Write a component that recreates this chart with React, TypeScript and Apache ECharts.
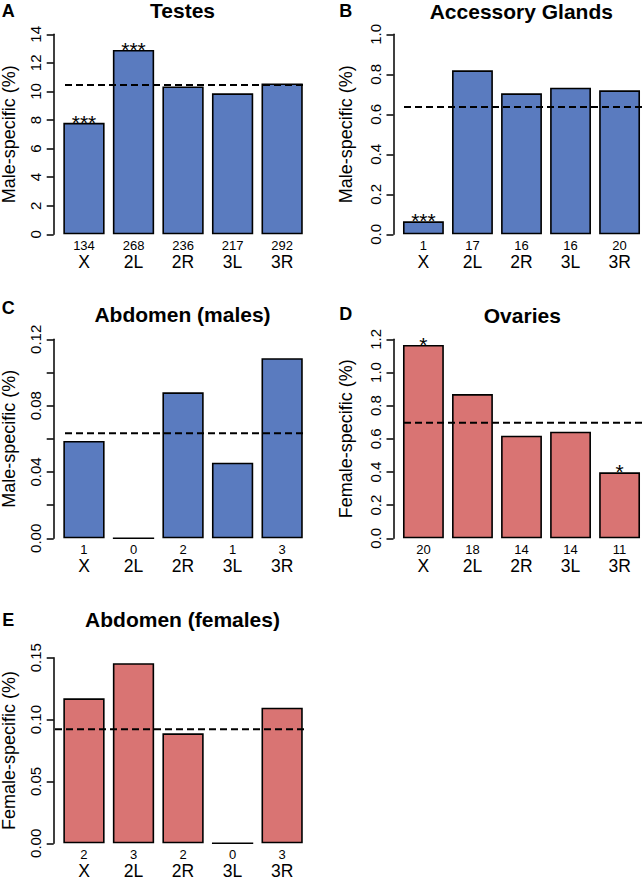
import React, { useEffect, useRef } from "react";
import * as echarts from "echarts";

// ---------- data ----------
const categories = ["X", "2L", "2R", "3L", "3R"];

const testesPct = [7.8, 12.9, 10.35, 9.87, 10.56];
const testesCounts = [134, 268, 236, 217, 292];
const testesSig = ["***", "***", "", "", ""];
const testesMean = 10.45;

const glandsPct = [0.065, 0.82, 0.705, 0.733, 0.72];
const glandsCounts = [1, 17, 16, 16, 20];
const glandsSig = ["***", "", "", "", ""];
const glandsMean = 0.636;

const abdMalePct = [0.0587, 0, 0.088, 0.0456, 0.1086];
const abdMaleCounts = [1, 0, 2, 1, 3];
const abdMaleSig = ["", "", "", "", ""];
const abdMaleMean = 0.0633;

const ovariesPct = [1.166, 0.87, 0.619, 0.643, 0.398];
const ovariesCounts = [20, 18, 14, 14, 11];
const ovariesSig = ["*", "", "", "", "*"];
const ovariesMean = 0.697;

const abdFemalePct = [0.1172, 0.1455, 0.0889, 0, 0.1096];
const abdFemaleCounts = [2, 3, 2, 0, 3];
const abdFemaleSig = ["", "", "", "", ""];
const abdFemaleMean = 0.0921;

// ---------- styles ----------
const FONT = "'Liberation Sans', Arial, Helvetica, sans-serif";
const BLUE = "#5A7BBF";
const RED = "#D97473";

const fmt0 = (v: number) => String(Math.round(v));
const fmt1 = (v: number) => v.toFixed(1);
const fmt2 = (v: number) => v.toFixed(2);
const fmt2every2 = (v: number) => (Math.round(v / 0.02) % 2 === 0 ? v.toFixed(2) : "");

const panels = [
  {
    letter: "A", title: "Testes", ylabel: "Male-specific (%)",
    values: testesPct, counts: testesCounts, sig: testesSig, mean: testesMean, color: BLUE,
    yMax: 14, yInterval: 2, fmt: fmt0,
    left: 59.2, width: 247.7, top: 34.3, height: 200, axisOffset: 5.5, nameGap: 36,
    lineFrom: 65, lineTo: 305, letterPos: [8.3, 10.7], titlePos: [182.5, 10.3],
  },
  {
    letter: "B", title: "Accessory Glands", ylabel: "Male-specific (%)",
    values: glandsPct, counts: glandsCounts, sig: glandsSig, mean: glandsMean, color: BLUE,
    yMax: 1.0, yInterval: 0.2, fmt: fmt1,
    left: 398.9, width: 245.2, top: 34.3, height: 200, axisOffset: 5.4, nameGap: 38.5,
    lineFrom: 404, lineTo: 644, letterPos: [345.7, 10.7], titlePos: [521.3, 11.2],
  },
  {
    letter: "C", title: "Abdomen (males)", ylabel: "Male-specific (%)",
    values: abdMalePct, counts: abdMaleCounts, sig: abdMaleSig, mean: abdMaleMean, color: BLUE,
    yMax: 0.12, yInterval: 0.02, fmt: fmt2every2,
    left: 59.2, width: 247.7, top: 339.3, height: 199, axisOffset: 5.5, nameGap: 36,
    lineFrom: 65, lineTo: 305, letterPos: [8.3, 307.8], titlePos: [182.5, 314.5],
  },
  {
    letter: "D", title: "Ovaries", ylabel: "Female-specific (%)",
    values: ovariesPct, counts: ovariesCounts, sig: ovariesSig, mean: ovariesMean, color: RED,
    yMax: 1.2, yInterval: 0.2, fmt: fmt1,
    left: 398.9, width: 245.2, top: 339.3, height: 199, axisOffset: 5.4, nameGap: 38.5,
    lineFrom: 404, lineTo: 644, letterPos: [345.7, 313.7], titlePos: [522.3, 315],
  },
  {
    letter: "E", title: "Abdomen (females)", ylabel: "Female-specific (%)",
    values: abdFemalePct, counts: abdFemaleCounts, sig: abdFemaleSig, mean: abdFemaleMean, color: RED,
    yMax: 0.15, yInterval: 0.05, fmt: fmt2,
    left: 59.2, width: 247.7, top: 657.7, height: 185.6, axisOffset: 5.5, nameGap: 36,
    lineFrom: 55, lineTo: 305, letterPos: [8.3, 620], titlePos: [182.5, 619.5],
  },
];

function buildOption() {
  const grid: any[] = [];
  const xAxis: any[] = [];
  const yAxis: any[] = [];
  const series: any[] = [];
  const graphic: any[] = [];
  const n = panels.length;

  panels.forEach((p, i) => {
    grid.push({
      left: p.left, top: p.top, width: p.width, height: p.height,
      containLabel: false, outerBoundsMode: "none",
    });
    xAxis.push({
      type: "category", gridIndex: i, data: categories, boundaryGap: true,
      axisLine: { show: false }, axisTick: { show: false }, splitLine: { show: false },
      axisLabel: {
        interval: 0, margin: 4,
        formatter: (value: string, idx: number) => `{n|${p.counts[idx]}}\n{c|${value}}`,
        rich: {
          n: { fontSize: 13, lineHeight: 14.5, fontFamily: FONT, color: "#000", align: "center" },
          c: { fontSize: 17.5, lineHeight: 17.5, fontFamily: FONT, color: "#000", align: "center" },
        },
      },
    });
    yAxis.push({
      type: "value", gridIndex: i, min: 0, max: p.yMax, interval: p.yInterval,
      position: "left", offset: p.axisOffset,
      name: p.ylabel, nameLocation: "middle", nameGap: p.nameGap, nameRotate: 90,
      nameTextStyle: { fontSize: 18, fontFamily: FONT, color: "#000" },
      axisLine: { show: true, lineStyle: { color: "#000", width: 1.5 } },
      axisTick: { show: true, length: 7, inside: false, lineStyle: { color: "#000", width: 1.5 } },
      splitLine: { show: false },
      axisLabel: {
        rotate: 90, margin: 11, fontSize: 15, fontFamily: FONT, color: "#000",
        formatter: (v: number) => p.fmt(v),
      },
    });
    series.push({
      type: "bar", xAxisIndex: i, yAxisIndex: i, data: p.values,
      barCategoryGap: "16.667%",
      itemStyle: { color: p.color, borderColor: "#000", borderWidth: 1.6 },
      label: {
        show: true, position: "top", distance: -10,
        fontSize: 21, fontFamily: FONT, color: "#000",
        formatter: (prm: any) => p.sig[prm.dataIndex],
      },
      silent: true,
    });
    graphic.push({
      type: "text", x: p.letterPos[0], y: p.letterPos[1],
      style: { text: p.letter, fontSize: 18, fontWeight: "bold", fontFamily: FONT, fill: "#000", align: "center", verticalAlign: "middle" },
    });
    graphic.push({
      type: "text", x: p.titlePos[0], y: p.titlePos[1],
      style: { text: p.title, fontSize: 21, fontWeight: "bold", fontFamily: FONT, fill: "#000", align: "center", verticalAlign: "middle" },
    });
  });

  // overlay grids for the dashed mean lines
  panels.forEach((p, i) => {
    const gi = n + i;
    grid.push({
      left: p.lineFrom, top: p.top, width: p.lineTo - p.lineFrom, height: p.height,
      containLabel: false, outerBoundsMode: "none",
    });
    xAxis.push({ type: "value", gridIndex: gi, min: 0, max: 1, show: false });
    yAxis.push({ type: "value", gridIndex: gi, min: 0, max: p.yMax, show: false });
    series.push({
      type: "line", xAxisIndex: gi, yAxisIndex: gi,
      data: [[0, p.mean], [1, p.mean]],
      symbol: "none", silent: true,
      lineStyle: { color: "#000", width: 2, type: [7, 4] },
      z: 5,
    });
  });

  return { animation: false, backgroundColor: "#fff", grid, xAxis, yAxis, series, graphic };
}

export default function App() {
  const ref = useRef<HTMLDivElement>(null);
  useEffect(() => {
    if (!ref.current) return;
    const chart = echarts.init(ref.current, undefined, { renderer: "svg" });
    chart.setOption(buildOption() as any);
    return () => chart.dispose();
  }, []);
  return (
    <div
      ref={ref}
      style={{ position: "fixed", left: 0, top: 0, width: 644, height: 880, background: "#fff" }}
    />
  );
}
